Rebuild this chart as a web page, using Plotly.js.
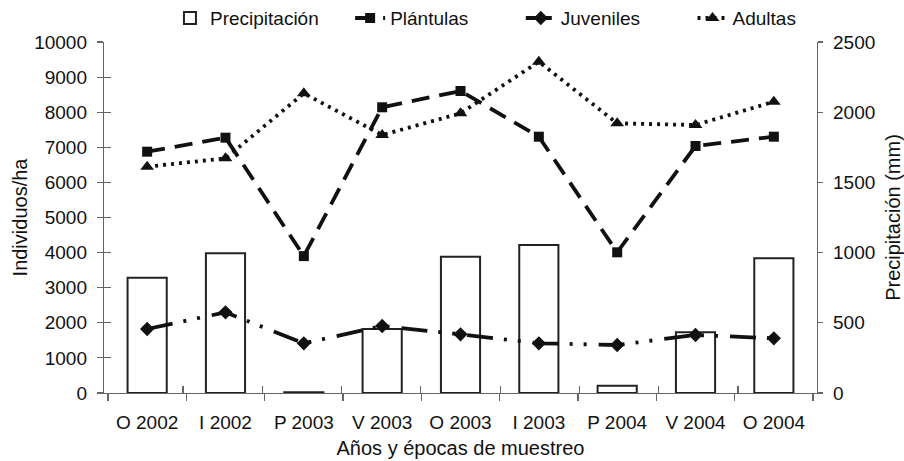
<!DOCTYPE html>
<html>
<head>
<meta charset="utf-8">
<script src="https://cdn.plot.ly/plotly-3.0.1.min.js"></script>
<style>html,body{margin:0;padding:0;background:#fff}#chart{width:904px;height:461px}</style>
</head>
<body>
<div id="chart"></div>
<script>
const categories = ["O 2002","I 2002","P 2003","V 2003","O 2003","I 2003","P 2004","V 2004","O 2004"];
const precipitacion = [820, 995, 5, 456, 970, 1054, 52, 432, 959];
const plantulas = [6875, 7274, 3900, 8140, 8604, 7302, 4008, 7037, 7302];
const juveniles = [1823, 2299, 1416, 1909, 1672, 1416, 1368, 1652, 1558];
const adultas = [6447, 6686, 8538, 7350, 7968, 9439, 7683, 7635, 8299];

const tickFam = "Liberation Sans";
const sans = "Liberation Sans";
const axColor = "#666";
const sp = n => "\u00a0".repeat(n);

const traces = [
  {type:"bar", name:"Precipitación" + sp(5), x:categories, y:precipitacion, xaxis:"x", yaxis:"y",
   width:0.5, marker:{color:"#fff", line:{color:"#222", width:2}}},
  {type:"scatter", mode:"lines+markers", name:"Plántulas" + sp(9), x:categories, y:plantulas, xaxis:"x", yaxis:"y2",
   line:{color:"#111", width:3.8, dash:"18px,10px"}, marker:{symbol:"square", size:10, color:"#111"}},
  {type:"scatter", mode:"lines+markers", name:"Juveniles" + sp(9), x:categories, y:juveniles, xaxis:"x", yaxis:"y2",
   line:{color:"#111", width:3.8, dash:"26px,11px,3px,11px,3px,12px"}, marker:{symbol:"diamond", size:11, color:"#111"}},
  {type:"scatter", mode:"lines+markers", name:"Adultas", x:categories, y:adultas, xaxis:"x", yaxis:"y2",
   line:{color:"#111", width:3.8, dash:"3px,5px"}, marker:{symbol:"triangle-up", size:12, color:"#111"}},
  {type:"scatter", mode:"markers", x:categories, y:categories.map(()=>null), xaxis:"x2", yaxis:"y3",
   showlegend:false, hoverinfo:"skip"}
];

const layout = {
  width:904, height:461,
  margin:{l:104, r:87, t:42, b:68, autoexpand:false},
  paper_bgcolor:"#fff", plot_bgcolor:"rgba(0,0,0,0)",
  showlegend:true,
  legend:{orientation:"h", x:0.535, xanchor:"center", y:1.068, yanchor:"middle",
    font:{family:sans, size:19, color:"#111"}, traceorder:"normal", bgcolor:"rgba(0,0,0,0)"},
  xaxis:{type:"category", showgrid:false, zeroline:false, showline:true, linecolor:axColor, linewidth:1.2,
    ticks:"outside", ticklen:7, tickcolor:axColor, tickwidth:1.2, tickson:"boundaries", ticklabelstandoff:12,
    tickfont:{family:sans, size:19, color:"#111"},
    title:{text:"Años y épocas de muestreo", font:{family:sans, size:20, color:"#111"}, standoff:9}},
  xaxis2:{type:"category", overlaying:"x", side:"bottom", showgrid:false, zeroline:false, showline:false,
    ticks:"inside", ticklen:7, tickcolor:axColor, tickwidth:1.2, tickson:"boundaries", showticklabels:false},
  yaxis:{range:[0,2500], dtick:500, tickformat:"d", side:"right", showgrid:false, zeroline:false, showline:true,
    linecolor:axColor, linewidth:1.2, ticks:"outside", ticklen:5, tickcolor:axColor, tickwidth:1.2,
    tickfont:{family:tickFam, size:19, color:"#111"}, ticklabelstandoff:6,
    title:{text:"Precipitación (mm)", font:{family:sans, size:20, color:"#111"}, standoff:14}},
  yaxis2:{range:[0,10000], dtick:1000, tickformat:"d", overlaying:"y", side:"left", showgrid:false, zeroline:false, showline:true,
    linecolor:axColor, linewidth:1.2, ticks:"outside", ticklen:6, tickcolor:axColor, tickwidth:1.2,
    tickfont:{family:tickFam, size:19, color:"#111"}, ticklabelstandoff:6,
    title:{text:"Individuos/ha", font:{family:sans, size:20, color:"#111"}, standoff:1}},
  yaxis3:{range:[0,10000], dtick:1000, overlaying:"y", side:"left", showgrid:false, zeroline:false, showline:false,
    ticks:"inside", ticklen:7, tickcolor:axColor, tickwidth:1.2, showticklabels:false}
};

Plotly.newPlot("chart", traces, layout, {displayModeBar:false, staticPlot:true});
</script>
</body>
</html>
